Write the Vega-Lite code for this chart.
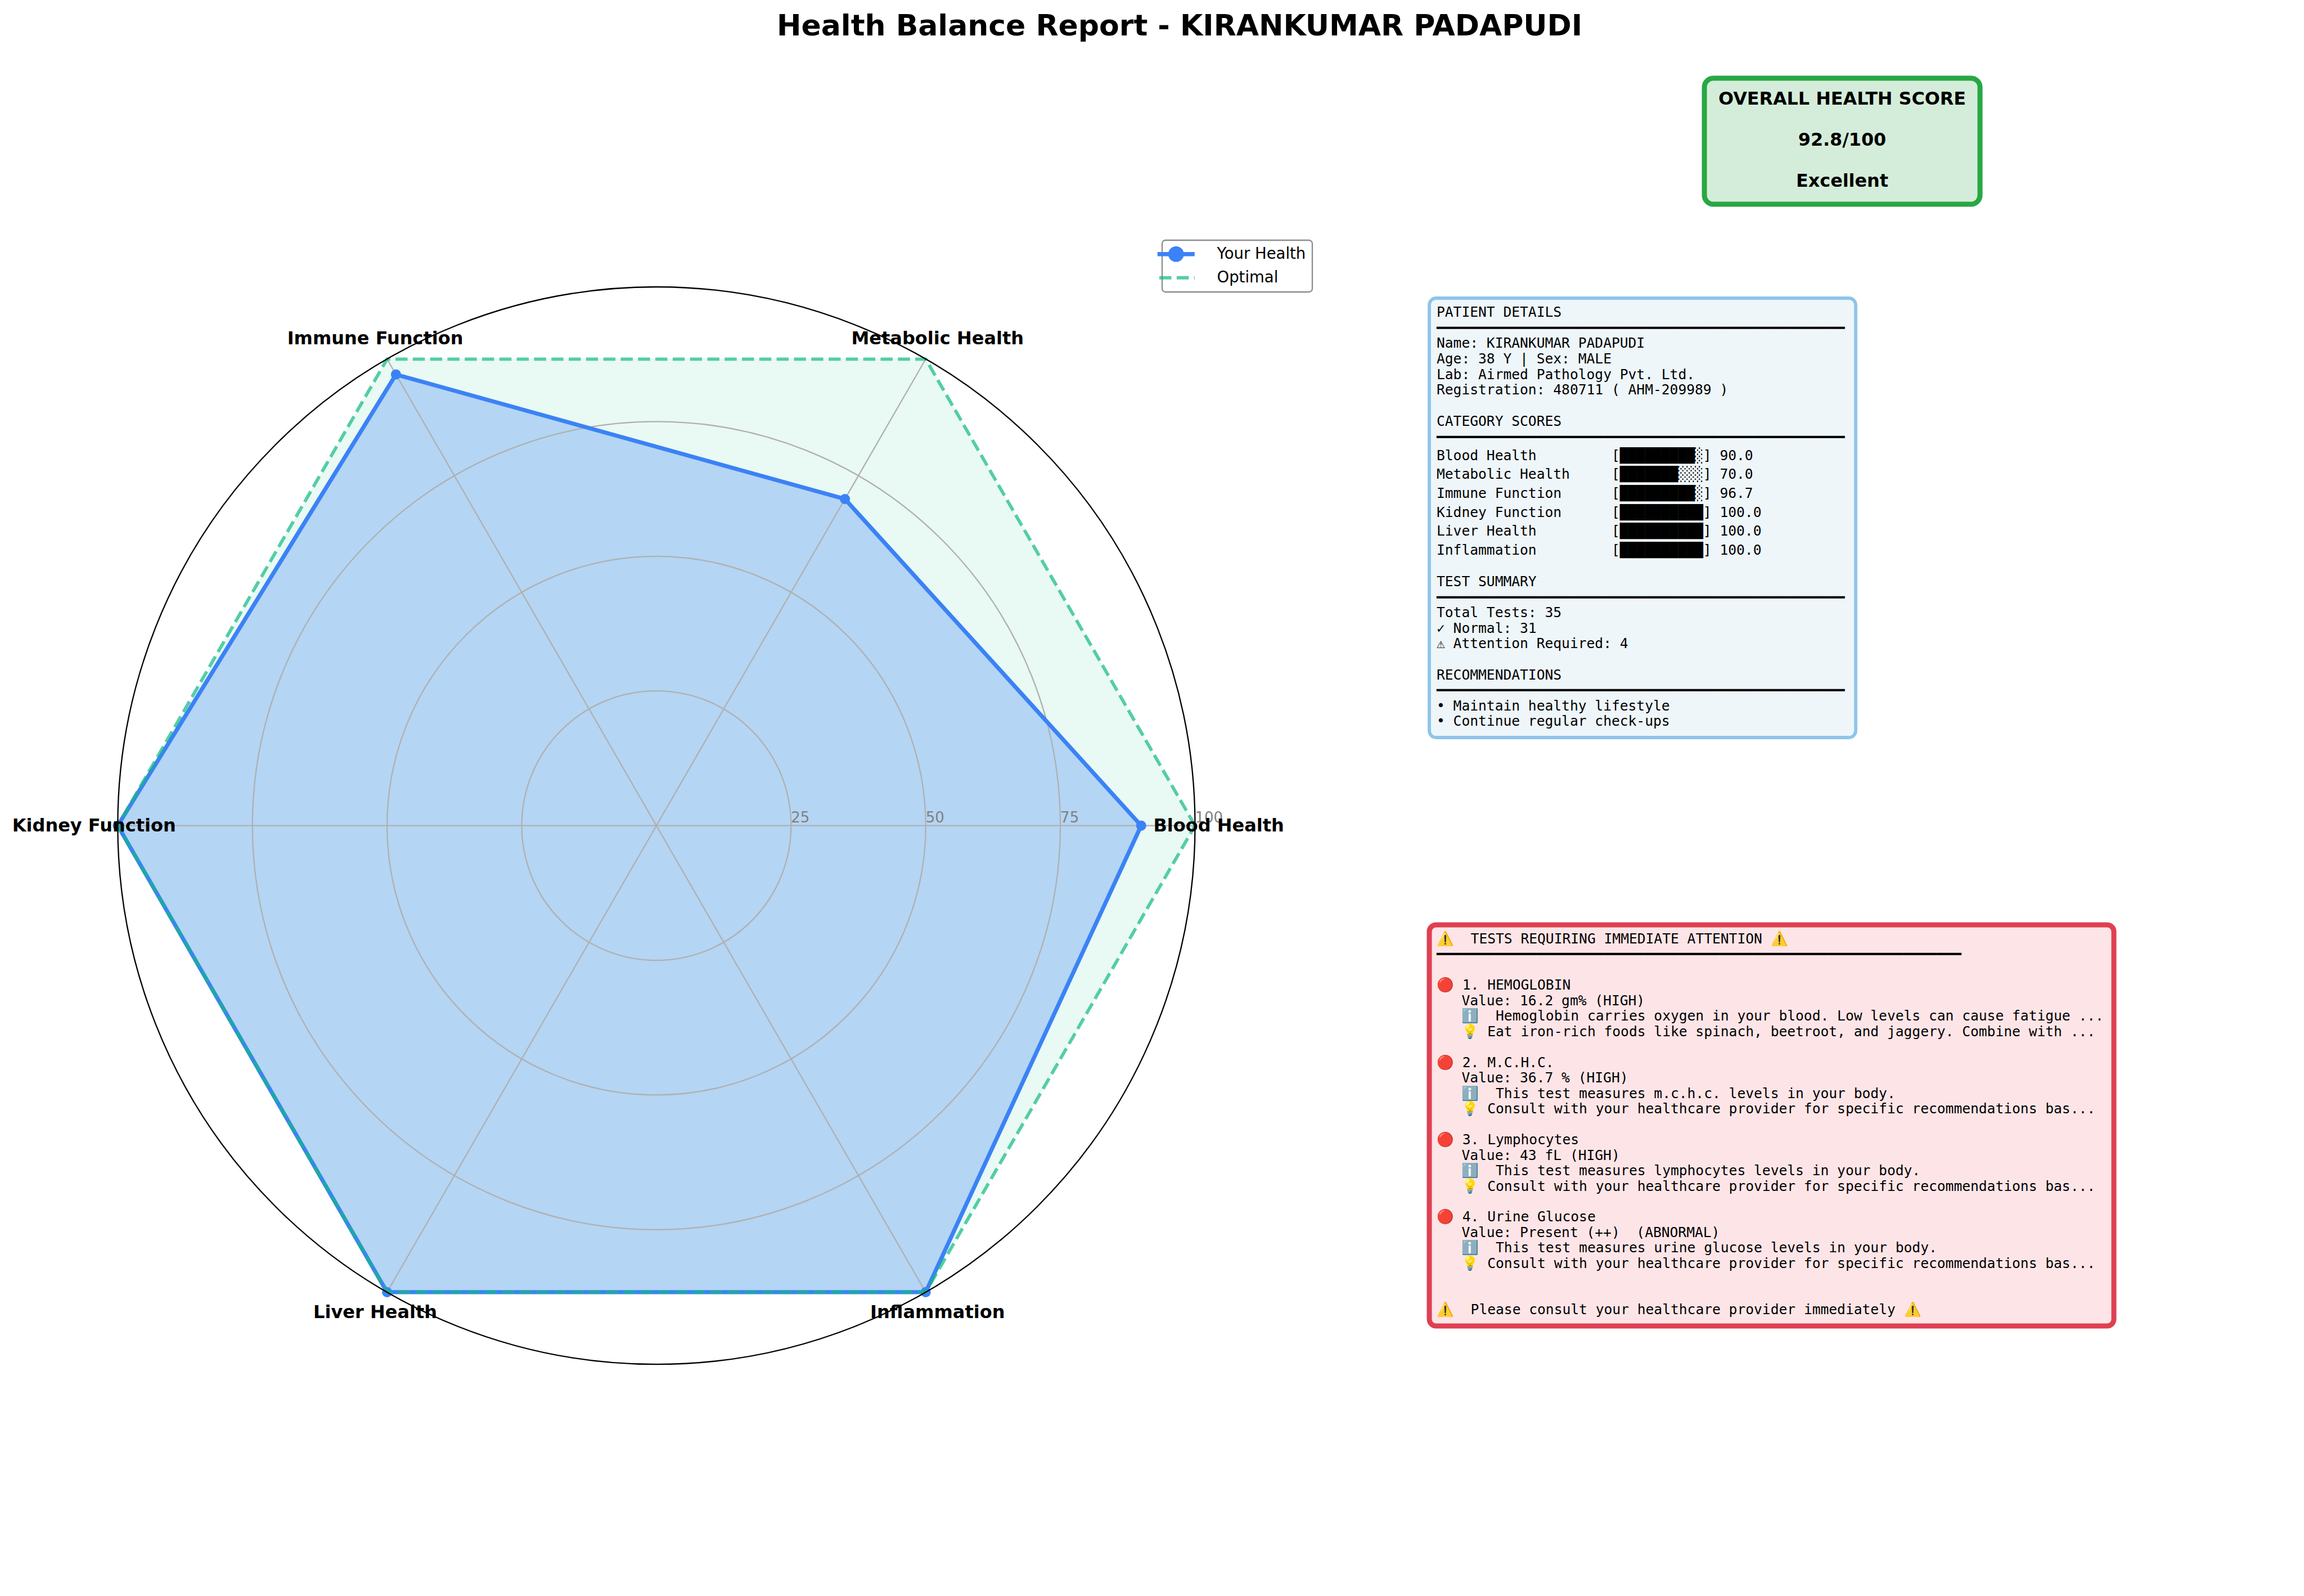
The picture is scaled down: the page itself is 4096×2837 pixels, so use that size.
{
  "$schema": "https://vega.github.io/schema/vega-lite/v6.json",
  "background": "white",
  "padding": {"top": 20, "left": 0, "right": 0, "bottom": 0},
  "title": {
    "text": "Health Balance Report - KIRANKUMAR PADAPUDI",
    "font": "DejaVu Sans", "fontSize": 52, "fontWeight": "bold", "color": "black",
    "anchor": "start", "align": "center", "dx": 2097, "offset": 61
  },
  "config": {"view": {"stroke": null}},
  "datasets": {
    "radar": [
      {"category": "Blood Health", "order": 0, "series": "Your Health", "value": 90.0},
      {"category": "Metabolic Health", "order": 1, "series": "Your Health", "value": 70.0},
      {"category": "Immune Function", "order": 2, "series": "Your Health", "value": 96.7},
      {"category": "Kidney Function", "order": 3, "series": "Your Health", "value": 100.0},
      {"category": "Liver Health", "order": 4, "series": "Your Health", "value": 100.0},
      {"category": "Inflammation", "order": 5, "series": "Your Health", "value": 100.0},
      {"category": "Blood Health", "order": 0, "series": "Optimal", "value": 100},
      {"category": "Metabolic Health", "order": 1, "series": "Optimal", "value": 100},
      {"category": "Immune Function", "order": 2, "series": "Optimal", "value": 100},
      {"category": "Kidney Function", "order": 3, "series": "Optimal", "value": 100},
      {"category": "Liver Health", "order": 4, "series": "Optimal", "value": 100},
      {"category": "Inflammation", "order": 5, "series": "Optimal", "value": 100}
    ],
    "rings": [{"r": 25}, {"r": 50}, {"r": 75}, {"r": 100}],
    "score_lines": [
      {"line": 0, "text": "OVERALL HEALTH SCORE"},
      {"line": 1, "text": "92.8/100"},
      {"line": 2, "text": "Excellent"}
    ],
    "patient_lines": [
      {"line": 0, "text": "PATIENT DETAILS"},
      {"line": 1, "text": "━━━━━━━━━━━━━━━━━━━━━━━━━━━━━━━━━━━━━━━━━━━━━━━━━"},
      {"line": 2, "text": "Name: KIRANKUMAR PADAPUDI"},
      {"line": 3, "text": "Age: 38 Y | Sex: MALE"},
      {"line": 4, "text": "Lab: Airmed Pathology Pvt. Ltd."},
      {"line": 5, "text": "Registration: 480711 ( AHM-209989 )"},
      {"line": 7, "text": "CATEGORY SCORES"},
      {"line": 8, "text": "━━━━━━━━━━━━━━━━━━━━━━━━━━━━━━━━━━━━━━━━━━━━━━━━━"},
      {"line": 9, "text": "Blood Health\u00a0\u00a0\u00a0\u00a0\u00a0\u00a0\u00a0\u00a0\u00a0[█████████░] 90.0"},
      {"line": 10, "text": "Metabolic Health\u00a0\u00a0\u00a0\u00a0\u00a0[███████░░░] 70.0"},
      {"line": 11, "text": "Immune Function\u00a0\u00a0\u00a0\u00a0\u00a0\u00a0[█████████░] 96.7"},
      {"line": 12, "text": "Kidney Function\u00a0\u00a0\u00a0\u00a0\u00a0\u00a0[██████████] 100.0"},
      {"line": 13, "text": "Liver Health\u00a0\u00a0\u00a0\u00a0\u00a0\u00a0\u00a0\u00a0\u00a0[██████████] 100.0"},
      {"line": 14, "text": "Inflammation\u00a0\u00a0\u00a0\u00a0\u00a0\u00a0\u00a0\u00a0\u00a0[██████████] 100.0"},
      {"line": 16, "text": "TEST SUMMARY"},
      {"line": 17, "text": "━━━━━━━━━━━━━━━━━━━━━━━━━━━━━━━━━━━━━━━━━━━━━━━━━"},
      {"line": 18, "text": "Total Tests: 35"},
      {"line": 19, "text": "✓ Normal: 31"},
      {"line": 20, "text": "⚠ Attention Required: 4"},
      {"line": 22, "text": "RECOMMENDATIONS"},
      {"line": 23, "text": "━━━━━━━━━━━━━━━━━━━━━━━━━━━━━━━━━━━━━━━━━━━━━━━━━"},
      {"line": 24, "text": "• Maintain healthy lifestyle"},
      {"line": 25, "text": "• Continue regular check-ups"}
    ],
    "attention_lines": [
      {"line": 0, "text": "⚠️\u00a0\u00a0TESTS REQUIRING IMMEDIATE ATTENTION ⚠️"},
      {"line": 1, "text": "━━━━━━━━━━━━━━━━━━━━━━━━━━━━━━━━━━━━━━━━━━━━━━━━━━━━━━━━━━━━━━━"},
      {"line": 3, "text": "🔴 1. HEMOGLOBIN"},
      {"line": 4, "text": "Value: 16.2 gm% (HIGH)"},
      {"line": 5, "text": "ℹ️\u00a0\u00a0Hemoglobin carries oxygen in your blood. Low levels can cause fatigue ..."},
      {"line": 6, "text": "💡 Eat iron-rich foods like spinach, beetroot, and jaggery. Combine with ..."},
      {"line": 8, "text": "🔴 2. M.C.H.C."},
      {"line": 9, "text": "Value: 36.7 % (HIGH)"},
      {"line": 10, "text": "ℹ️\u00a0\u00a0This test measures m.c.h.c. levels in your body."},
      {"line": 11, "text": "💡 Consult with your healthcare provider for specific recommendations bas..."},
      {"line": 13, "text": "🔴 3. Lymphocytes"},
      {"line": 14, "text": "Value: 43 fL (HIGH)"},
      {"line": 15, "text": "ℹ️\u00a0\u00a0This test measures lymphocytes levels in your body."},
      {"line": 16, "text": "💡 Consult with your healthcare provider for specific recommendations bas..."},
      {"line": 18, "text": "🔴 4. Urine Glucose"},
      {"line": 19, "text": "Value: Present (++)\u00a0\u00a0(ABNORMAL)"},
      {"line": 20, "text": "ℹ️\u00a0\u00a0This test measures urine glucose levels in your body."},
      {"line": 21, "text": "💡 Consult with your healthcare provider for specific recommendations bas..."},
      {"line": 24, "text": "⚠️\u00a0\u00a0Please consult your healthcare provider immediately ⚠️"}
    ]
  },
  "hconcat": [
    {
      "width": 2400,
      "height": 2300,
      "data": {"name": "radar"},
      "transform": [
        {"calculate": "datum.order * PI / 3", "as": "angle"},
        {"calculate": "datum.value * cos(datum.angle)", "as": "px"},
        {"calculate": "datum.value * sin(datum.angle)", "as": "py"}
      ],
      "layer": [
        {
          "transform": [{"filter": "datum.series === 'Optimal'"}],
          "mark": {"type": "line", "interpolate": "linear-closed", "fill": "#10b981", "fillOpacity": 0.09, "stroke": "transparent", "strokeWidth": 0},
          "encoding": {
            "x": {"field": "px", "type": "quantitative", "scale": {"domain": [-121.86, 128.77], "nice": false, "zero": false}, "axis": null},
            "y": {"field": "py", "type": "quantitative", "scale": {"domain": [-101.44, 138.74], "nice": false, "zero": false}, "axis": null},
            "order": {"field": "order", "type": "quantitative"}
          }
        },
        {
          "transform": [{"filter": "datum.series === 'Your Health'"}],
          "mark": {"type": "line", "interpolate": "linear-closed", "fill": "#3b82f6", "fillOpacity": 0.3, "stroke": "transparent", "strokeWidth": 0},
          "encoding": {
            "x": {"field": "px", "type": "quantitative"},
            "y": {"field": "py", "type": "quantitative"},
            "order": {"field": "order", "type": "quantitative"}
          }
        },
        {
          "data": {"name": "rings"},
          "transform": [{"filter": "datum.r < 100"}],
          "mark": {"type": "point", "shape": "circle", "filled": false, "color": "#b0b0b0", "strokeWidth": 2.3, "opacity": 1},
          "encoding": {
            "x": {"datum": 0, "type": "quantitative"},
            "y": {"datum": 0, "type": "quantitative"},
            "size": {"field": "r", "type": "quantitative", "scale": {"type": "pow", "exponent": 2, "domain": [0, 100], "range": [0, 3668000], "zero": true}, "legend": null}
          }
        },
        {
          "transform": [{"filter": "datum.series === 'Optimal'"}],
          "mark": {"type": "rule", "color": "#b0b0b0", "strokeWidth": 2.3},
          "encoding": {
            "x": {"field": "px", "type": "quantitative"},
            "y": {"field": "py", "type": "quantitative"},
            "x2": {"datum": 0},
            "y2": {"datum": 0}
          }
        },
        {
          "transform": [{"filter": "datum.series === 'Your Health'"}],
          "mark": {"type": "line", "interpolate": "linear-closed", "strokeWidth": 7.3, "strokeJoin": "round"},
          "encoding": {
            "x": {"field": "px", "type": "quantitative"},
            "y": {"field": "py", "type": "quantitative"},
            "order": {"field": "order", "type": "quantitative"},
            "color": {
              "field": "series", "type": "nominal",
              "scale": {"domain": ["Your Health", "Optimal"], "range": ["#3b82f6", "#10b981"]},
              "legend": {
                "title": null, "orient": "none", "legendX": 2066, "legendY": 288,
                "symbolSize": 4356, "symbolStrokeWidth": 7.3,
                "labelFont": "DejaVu Sans", "labelFontSize": 27.5, "labelColor": "black",
                "labelOffset": 59, "rowPadding": 2, "padding": 11,
                "strokeColor": "#8c8c8c", "fillColor": "white", "cornerRadius": 6,
                "encode": {
                  "legend": {"update": {"strokeWidth": {"value": 2.3}}},
                  "symbols": {
                    "update": {
                      "shape": {"signal": "datum.value === 'Your Health' ? 'M-1,0H1M0.31,0A0.31,0.31,0,1,1,-0.31,0A0.31,0.31,0,1,1,0.31,0Z' : 'stroke'"},
                      "fill": {"signal": "datum.value === 'Your Health' ? '#3b82f6' : 'transparent'"},
                      "strokeWidth": {"signal": "datum.value === 'Your Health' ? 7.3 : 5.8"},
                      "strokeDash": {"signal": "datum.value === 'Your Health' ? [1, 0] : [21.5, 9.3]"},
                      "strokeDashOffset": {"value": 27.5},
                      "opacity": {"signal": "datum.value === 'Your Health' ? 1 : 0.7"}
                    }
                  }
                }
              }
            }
          }
        },
        {
          "transform": [{"filter": "datum.series === 'Your Health'"}],
          "mark": {"type": "point", "shape": "circle", "filled": true, "size": 327, "color": "#3b82f6", "opacity": 1},
          "encoding": {
            "x": {"field": "px", "type": "quantitative"},
            "y": {"field": "py", "type": "quantitative"}
          }
        },
        {
          "transform": [{"filter": "datum.series === 'Optimal'"}],
          "mark": {"type": "line", "interpolate": "linear-closed", "strokeWidth": 5.8, "strokeOpacity": 0.7, "strokeDash": [21.5, 9.3]},
          "encoding": {
            "x": {"field": "px", "type": "quantitative"},
            "y": {"field": "py", "type": "quantitative"},
            "order": {"field": "order", "type": "quantitative"},
            "color": {"field": "series", "type": "nominal"}
          }
        },
        {
          "data": {"name": "rings"},
          "transform": [{"filter": "datum.r === 100"}],
          "mark": {"type": "point", "shape": "circle", "filled": false, "color": "black", "strokeWidth": 2.3, "opacity": 1},
          "encoding": {
            "x": {"datum": 0, "type": "quantitative"},
            "y": {"datum": 0, "type": "quantitative"},
            "size": {"field": "r", "type": "quantitative", "scale": {"type": "pow", "exponent": 2, "domain": [0, 100], "range": [0, 3668000], "zero": true}, "legend": null}
          }
        },
        {
          "data": {"name": "rings"},
          "mark": {"type": "text", "align": "left", "baseline": "alphabetic", "dy": -5.6, "font": "DejaVu Sans", "fontSize": 26, "color": "#808080"},
          "encoding": {
            "x": {"field": "r", "type": "quantitative"},
            "y": {"datum": 0, "type": "quantitative"},
            "text": {"field": "r", "type": "quantitative"}
          }
        },
        {
          "transform": [
            {"filter": "datum.series === 'Optimal'"},
            {"calculate": "104.4 * cos(datum.angle)", "as": "lx"},
            {"calculate": "104.4 * sin(datum.angle)", "as": "ly"}
          ],
          "mark": {"type": "text", "align": "center", "baseline": "middle", "font": "DejaVu Sans", "fontWeight": "bold", "fontSize": 32, "color": "black"},
          "encoding": {
            "x": {"field": "lx", "type": "quantitative"},
            "y": {"field": "ly", "type": "quantitative"},
            "text": {"field": "category", "type": "nominal"}
          }
        }
      ]
    },
    {
      "spacing": 0,
      "bounds": "flush",
      "vconcat": [
        {
          "width": 979, "height": 224,
          "layer": [
            {
              "data": {"values": [{}]},
              "mark": {"type": "rect", "fill": "#d4edda", "stroke": "#28a745", "strokeWidth": 9, "cornerRadius": 16},
              "encoding": {
                "x": {"datum": -1, "type": "quantitative", "scale": {"domain": [-1, 1], "range": [489, 979]}, "axis": null},
                "x2": {"datum": 1},
                "y": {"datum": -0.5068, "type": "quantitative", "scale": {"domain": [0, 2], "range": [37, 183], "zero": false, "nice": false}, "axis": null},
                "y2": {"datum": 2.5616}
              }
            },
            {
              "data": {"name": "score_lines"},
              "mark": {"type": "text", "align": "center", "baseline": "middle", "font": "DejaVu Sans", "fontWeight": "bold", "fontSize": 31.8, "color": "black"},
              "encoding": {
                "x": {"datum": 0, "type": "quantitative"},
                "y": {"field": "line", "type": "quantitative"},
                "text": {"field": "text", "type": "nominal"}
              }
            }
          ]
        },
        {"width": 10, "height": 167, "data": {"values": []}, "mark": "point", "encoding": {}},
        {
          "width": 758, "height": 781,
          "view": {"fill": "#eef6fa", "stroke": "#8ec5e9", "strokeWidth": 5.8, "cornerRadius": 12},
          "data": {"name": "patient_lines"},
          "mark": {"type": "text", "align": "left", "baseline": "middle", "font": "DejaVu Sans Mono", "fontSize": 24.6, "color": "black"},
          "encoding": {
            "x": {"datum": 0, "type": "quantitative", "scale": {"domain": [0, 50], "range": [13, 753]}, "axis": null},
            "y": {"field": "line", "type": "quantitative", "scale": {"domain": [0, 8, 9, 14, 16, 25], "range": [26, 247.5, 280.6, 448.9, 505.3, 753.2], "zero": false, "nice": false}, "axis": null},
            "text": {"field": "text", "type": "nominal"}
          }
        },
        {"width": 10, "height": 333, "data": {"values": []}, "mark": "point", "encoding": {}},
        {
          "width": 1217, "height": 713,
          "view": {"fill": "#fde5e7", "stroke": "#df4052", "strokeWidth": 9, "cornerRadius": 12},
          "data": {"name": "attention_lines"},
          "layer": [
            {
              "transform": [{"filter": "!test(/^(Value|ℹ|💡)/, datum.text)"}],
              "mark": {"type": "text", "align": "left", "baseline": "middle", "font": "DejaVu Sans Mono", "fontSize": 24.6, "color": "black"},
              "encoding": {
                "x": {"datum": 0, "type": "quantitative", "scale": {"domain": [0, 50], "range": [13, 753]}, "axis": null},
                "y": {"field": "line", "type": "quantitative", "scale": {"domain": [0, 24], "range": [26, 685.3], "zero": false, "nice": false}, "axis": null},
                "text": {"field": "text", "type": "nominal"}
              }
            },
            {
              "transform": [{"filter": "test(/^(Value|ℹ|💡)/, datum.text)"}],
              "mark": {"type": "text", "align": "left", "baseline": "middle", "font": "DejaVu Sans Mono", "fontSize": 24.6, "color": "black"},
              "encoding": {
                "x": {"datum": 3, "type": "quantitative"},
                "y": {"field": "line", "type": "quantitative"},
                "text": {"field": "text", "type": "nominal"}
              }
            }
          ]
        }
      ]
    }
  ],
  "spacing": 141,
  "bounds": "flush"
}
